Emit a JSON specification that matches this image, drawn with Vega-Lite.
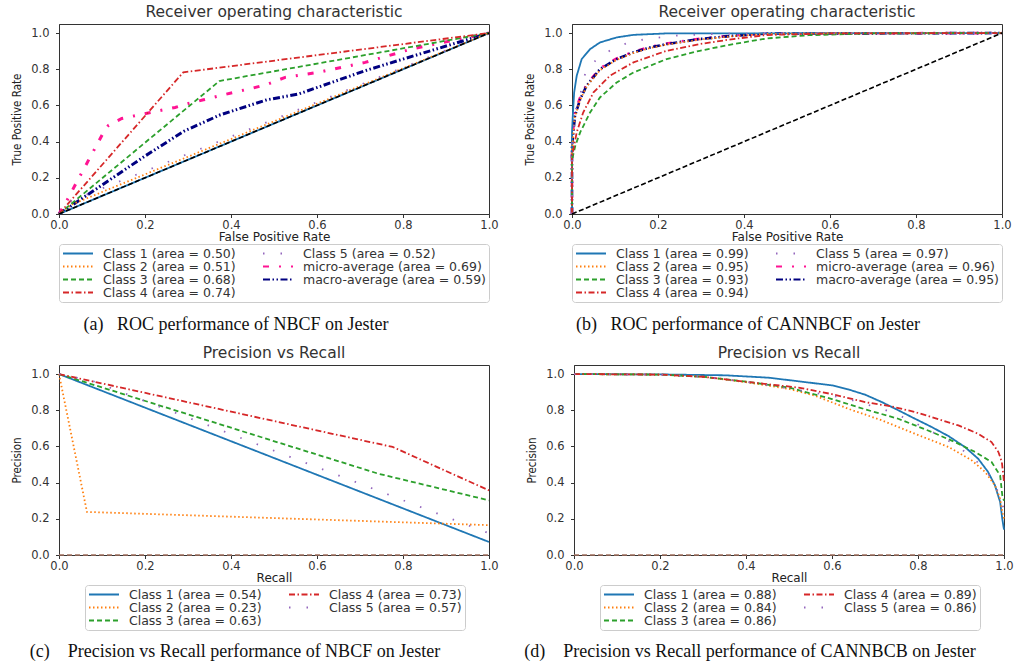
{
  "$schema": "https://vega.github.io/schema/vega-lite/v6.json",
  "padding": {"left": 11, "top": 4, "right": 0, "bottom": 0},
  "background": "white",
  "datasets": {
    "a": [
      {"s": "Class 1 (area = 0.50)", "x": 0, "y": 0}, {"s": "Class 1 (area = 0.50)", "x": 1, "y": 1},
      {"s": "Class 2 (area = 0.51)", "x": 0, "y": 0}, {"s": "Class 2 (area = 0.51)", "x": 0.03, "y": 0.053}, {"s": "Class 2 (area = 0.51)", "x": 1, "y": 1},
      {"s": "Class 3 (area = 0.68)", "x": 0, "y": 0}, {"s": "Class 3 (area = 0.68)", "x": 0.373, "y": 0.735}, {"s": "Class 3 (area = 0.68)", "x": 1, "y": 1},
      {"s": "Class 4 (area = 0.74)", "x": 0, "y": 0}, {"s": "Class 4 (area = 0.74)", "x": 0.289, "y": 0.783}, {"s": "Class 4 (area = 0.74)", "x": 1, "y": 1},
      {"s": "Class 5 (area = 0.52)", "x": 0, "y": 0}, {"s": "Class 5 (area = 0.52)", "x": 0.02, "y": 0.065}, {"s": "Class 5 (area = 0.52)", "x": 1, "y": 1}
    ],
    "a_avg": [
      {"s": "micro-average (area = 0.69)", "x": 0, "y": 0}, {"s": "micro-average (area = 0.69)", "x": 0.018, "y": 0.073},
      {"s": "micro-average (area = 0.69)", "x": 0.045, "y": 0.193}, {"s": "micro-average (area = 0.69)", "x": 0.06, "y": 0.258},
      {"s": "micro-average (area = 0.69)", "x": 0.072, "y": 0.313}, {"s": "micro-average (area = 0.69)", "x": 0.087, "y": 0.377},
      {"s": "micro-average (area = 0.69)", "x": 0.101, "y": 0.44}, {"s": "micro-average (area = 0.69)", "x": 0.115, "y": 0.49},
      {"s": "micro-average (area = 0.69)", "x": 0.146, "y": 0.528}, {"s": "micro-average (area = 0.69)", "x": 0.188, "y": 0.549},
      {"s": "micro-average (area = 0.69)", "x": 0.27, "y": 0.589}, {"s": "micro-average (area = 0.69)", "x": 0.301, "y": 0.611},
      {"s": "micro-average (area = 0.69)", "x": 0.336, "y": 0.631}, {"s": "micro-average (area = 0.69)", "x": 0.374, "y": 0.654},
      {"s": "micro-average (area = 0.69)", "x": 0.413, "y": 0.676}, {"s": "micro-average (area = 0.69)", "x": 0.448, "y": 0.694},
      {"s": "micro-average (area = 0.69)", "x": 0.483, "y": 0.716}, {"s": "micro-average (area = 0.69)", "x": 0.526, "y": 0.755},
      {"s": "micro-average (area = 0.69)", "x": 0.603, "y": 0.783}, {"s": "micro-average (area = 0.69)", "x": 0.712, "y": 0.838},
      {"s": "micro-average (area = 0.69)", "x": 0.82, "y": 0.912}, {"s": "micro-average (area = 0.69)", "x": 1, "y": 1},
      {"s": "macro-average (area = 0.59)", "x": 0, "y": 0}, {"s": "macro-average (area = 0.59)", "x": 0.1, "y": 0.16},
      {"s": "macro-average (area = 0.59)", "x": 0.2, "y": 0.32}, {"s": "macro-average (area = 0.59)", "x": 0.29, "y": 0.457},
      {"s": "macro-average (area = 0.59)", "x": 0.374, "y": 0.547}, {"s": "macro-average (area = 0.59)", "x": 0.483, "y": 0.631},
      {"s": "macro-average (area = 0.59)", "x": 0.557, "y": 0.663}, {"s": "macro-average (area = 0.59)", "x": 0.712, "y": 0.792},
      {"s": "macro-average (area = 0.59)", "x": 0.8, "y": 0.856}, {"s": "macro-average (area = 0.59)", "x": 1, "y": 1}
    ],
    "b": [
      {"s": "Class 1 (area = 0.99)", "x": 0, "y": 0}, {"s": "Class 1 (area = 0.99)", "x": 0, "y": 0.45},
      {"s": "Class 1 (area = 0.99)", "x": 0.002, "y": 0.55}, {"s": "Class 1 (area = 0.99)", "x": 0.005, "y": 0.672},
      {"s": "Class 1 (area = 0.99)", "x": 0.011, "y": 0.764}, {"s": "Class 1 (area = 0.99)", "x": 0.0225, "y": 0.856},
      {"s": "Class 1 (area = 0.99)", "x": 0.042, "y": 0.911}, {"s": "Class 1 (area = 0.99)", "x": 0.065, "y": 0.948},
      {"s": "Class 1 (area = 0.99)", "x": 0.104, "y": 0.976}, {"s": "Class 1 (area = 0.99)", "x": 0.143, "y": 0.99},
      {"s": "Class 1 (area = 0.99)", "x": 0.22, "y": 0.998}, {"s": "Class 1 (area = 0.99)", "x": 1, "y": 1},
      {"s": "Class 2 (area = 0.95)", "x": 0, "y": 0}, {"s": "Class 2 (area = 0.95)", "x": 0, "y": 0.35},
      {"s": "Class 2 (area = 0.95)", "x": 0.006, "y": 0.53}, {"s": "Class 2 (area = 0.95)", "x": 0.018, "y": 0.625},
      {"s": "Class 2 (area = 0.95)", "x": 0.034, "y": 0.705}, {"s": "Class 2 (area = 0.95)", "x": 0.065, "y": 0.795},
      {"s": "Class 2 (area = 0.95)", "x": 0.104, "y": 0.852}, {"s": "Class 2 (area = 0.95)", "x": 0.143, "y": 0.89},
      {"s": "Class 2 (area = 0.95)", "x": 0.181, "y": 0.917}, {"s": "Class 2 (area = 0.95)", "x": 0.22, "y": 0.936},
      {"s": "Class 2 (area = 0.95)", "x": 0.297, "y": 0.964}, {"s": "Class 2 (area = 0.95)", "x": 0.375, "y": 0.983},
      {"s": "Class 2 (area = 0.95)", "x": 0.452, "y": 0.995}, {"s": "Class 2 (area = 0.95)", "x": 0.6, "y": 0.999},
      {"s": "Class 2 (area = 0.95)", "x": 1, "y": 1},
      {"s": "Class 3 (area = 0.93)", "x": 0, "y": 0}, {"s": "Class 3 (area = 0.93)", "x": 0, "y": 0.3},
      {"s": "Class 3 (area = 0.93)", "x": 0.008, "y": 0.38}, {"s": "Class 3 (area = 0.93)", "x": 0.019, "y": 0.451},
      {"s": "Class 3 (area = 0.93)", "x": 0.042, "y": 0.561}, {"s": "Class 3 (area = 0.93)", "x": 0.065, "y": 0.644},
      {"s": "Class 3 (area = 0.93)", "x": 0.104, "y": 0.727}, {"s": "Class 3 (area = 0.93)", "x": 0.143, "y": 0.782},
      {"s": "Class 3 (area = 0.93)", "x": 0.22, "y": 0.856}, {"s": "Class 3 (area = 0.93)", "x": 0.297, "y": 0.902},
      {"s": "Class 3 (area = 0.93)", "x": 0.375, "y": 0.939}, {"s": "Class 3 (area = 0.93)", "x": 0.452, "y": 0.97},
      {"s": "Class 3 (area = 0.93)", "x": 0.55, "y": 0.988}, {"s": "Class 3 (area = 0.93)", "x": 0.7, "y": 0.998},
      {"s": "Class 3 (area = 0.93)", "x": 1, "y": 1},
      {"s": "Class 4 (area = 0.94)", "x": 0, "y": 0}, {"s": "Class 4 (area = 0.94)", "x": 0, "y": 0.32},
      {"s": "Class 4 (area = 0.94)", "x": 0.011, "y": 0.451}, {"s": "Class 4 (area = 0.94)", "x": 0.026, "y": 0.561},
      {"s": "Class 4 (area = 0.94)", "x": 0.05, "y": 0.672}, {"s": "Class 4 (area = 0.94)", "x": 0.088, "y": 0.764},
      {"s": "Class 4 (area = 0.94)", "x": 0.143, "y": 0.838}, {"s": "Class 4 (area = 0.94)", "x": 0.22, "y": 0.902},
      {"s": "Class 4 (area = 0.94)", "x": 0.297, "y": 0.939}, {"s": "Class 4 (area = 0.94)", "x": 0.375, "y": 0.967},
      {"s": "Class 4 (area = 0.94)", "x": 0.452, "y": 0.989}, {"s": "Class 4 (area = 0.94)", "x": 0.6, "y": 0.998},
      {"s": "Class 4 (area = 0.94)", "x": 1, "y": 1},
      {"s": "Class 5 (area = 0.97)", "x": 0, "y": 0}, {"s": "Class 5 (area = 0.97)", "x": 0, "y": 0.4},
      {"s": "Class 5 (area = 0.97)", "x": 0.01, "y": 0.59}, {"s": "Class 5 (area = 0.97)", "x": 0.019, "y": 0.653},
      {"s": "Class 5 (area = 0.97)", "x": 0.025, "y": 0.73}, {"s": "Class 5 (area = 0.97)", "x": 0.034, "y": 0.801},
      {"s": "Class 5 (area = 0.97)", "x": 0.061, "y": 0.862}, {"s": "Class 5 (area = 0.97)", "x": 0.096, "y": 0.915},
      {"s": "Class 5 (area = 0.97)", "x": 0.139, "y": 0.954}, {"s": "Class 5 (area = 0.97)", "x": 0.185, "y": 0.97},
      {"s": "Class 5 (area = 0.97)", "x": 0.232, "y": 0.985}, {"s": "Class 5 (area = 0.97)", "x": 0.35, "y": 0.997},
      {"s": "Class 5 (area = 0.97)", "x": 1, "y": 1}
    ],
    "b_avg": [
      {"s": "micro-average (area = 0.96)", "x": 0, "y": 0}, {"s": "micro-average (area = 0.96)", "x": 0, "y": 0.38},
      {"s": "micro-average (area = 0.96)", "x": 0.006, "y": 0.56}, {"s": "micro-average (area = 0.96)", "x": 0.019, "y": 0.645},
      {"s": "micro-average (area = 0.96)", "x": 0.034, "y": 0.715}, {"s": "micro-average (area = 0.96)", "x": 0.065, "y": 0.805},
      {"s": "micro-average (area = 0.96)", "x": 0.104, "y": 0.86}, {"s": "micro-average (area = 0.96)", "x": 0.143, "y": 0.897},
      {"s": "micro-average (area = 0.96)", "x": 0.181, "y": 0.923}, {"s": "micro-average (area = 0.96)", "x": 0.22, "y": 0.942},
      {"s": "micro-average (area = 0.96)", "x": 0.297, "y": 0.969}, {"s": "micro-average (area = 0.96)", "x": 0.375, "y": 0.987},
      {"s": "micro-average (area = 0.96)", "x": 0.452, "y": 0.998}, {"s": "micro-average (area = 0.96)", "x": 1, "y": 1},
      {"s": "macro-average (area = 0.95)", "x": 0, "y": 0}, {"s": "macro-average (area = 0.95)", "x": 0, "y": 0.38},
      {"s": "macro-average (area = 0.95)", "x": 0.007, "y": 0.543}, {"s": "macro-average (area = 0.95)", "x": 0.019, "y": 0.635},
      {"s": "macro-average (area = 0.95)", "x": 0.034, "y": 0.709}, {"s": "macro-average (area = 0.95)", "x": 0.065, "y": 0.801},
      {"s": "macro-average (area = 0.95)", "x": 0.104, "y": 0.856}, {"s": "macro-average (area = 0.95)", "x": 0.143, "y": 0.893},
      {"s": "macro-average (area = 0.95)", "x": 0.181, "y": 0.92}, {"s": "macro-average (area = 0.95)", "x": 0.22, "y": 0.939},
      {"s": "macro-average (area = 0.95)", "x": 0.297, "y": 0.967}, {"s": "macro-average (area = 0.95)", "x": 0.375, "y": 0.985},
      {"s": "macro-average (area = 0.95)", "x": 0.452, "y": 0.997}, {"s": "macro-average (area = 0.95)", "x": 1, "y": 1}
    ],
    "c": [
      {"s": "Class 1 (area = 0.54)", "x": 0, "y": 1}, {"s": "Class 1 (area = 0.54)", "x": 1, "y": 0.072},
      {"s": "Class 2 (area = 0.23)", "x": 0, "y": 1}, {"s": "Class 2 (area = 0.23)", "x": 0.065, "y": 0.238}, {"s": "Class 2 (area = 0.23)", "x": 1, "y": 0.165},
      {"s": "Class 3 (area = 0.63)", "x": 0, "y": 1}, {"s": "Class 3 (area = 0.63)", "x": 0.743, "y": 0.449}, {"s": "Class 3 (area = 0.63)", "x": 1, "y": 0.302},
      {"s": "Class 4 (area = 0.73)", "x": 0, "y": 1}, {"s": "Class 4 (area = 0.73)", "x": 0.776, "y": 0.597}, {"s": "Class 4 (area = 0.73)", "x": 1, "y": 0.357},
      {"s": "Class 5 (area = 0.57)", "x": 0, "y": 1}, {"s": "Class 5 (area = 0.57)", "x": 0.08, "y": 0.96}, {"s": "Class 5 (area = 0.57)", "x": 1, "y": 0.12}
    ],
    "d": [
      {"s": "Class 1 (area = 0.88)", "x": 0, "y": 1}, {"s": "Class 1 (area = 0.88)", "x": 0.2, "y": 0.998},
      {"s": "Class 1 (area = 0.88)", "x": 0.352, "y": 0.993}, {"s": "Class 1 (area = 0.88)", "x": 0.452, "y": 0.98},
      {"s": "Class 1 (area = 0.88)", "x": 0.522, "y": 0.96}, {"s": "Class 1 (area = 0.88)", "x": 0.6, "y": 0.9375},
      {"s": "Class 1 (area = 0.88)", "x": 0.638, "y": 0.915}, {"s": "Class 1 (area = 0.88)", "x": 0.677, "y": 0.886},
      {"s": "Class 1 (area = 0.88)", "x": 0.716, "y": 0.845}, {"s": "Class 1 (area = 0.88)", "x": 0.754, "y": 0.8},
      {"s": "Class 1 (area = 0.88)", "x": 0.793, "y": 0.753}, {"s": "Class 1 (area = 0.88)", "x": 0.832, "y": 0.707},
      {"s": "Class 1 (area = 0.88)", "x": 0.871, "y": 0.657}, {"s": "Class 1 (area = 0.88)", "x": 0.909, "y": 0.597},
      {"s": "Class 1 (area = 0.88)", "x": 0.94, "y": 0.532}, {"s": "Class 1 (area = 0.88)", "x": 0.963, "y": 0.459},
      {"s": "Class 1 (area = 0.88)", "x": 0.979, "y": 0.385}, {"s": "Class 1 (area = 0.88)", "x": 0.991, "y": 0.293},
      {"s": "Class 1 (area = 0.88)", "x": 0.996, "y": 0.2}, {"s": "Class 1 (area = 0.88)", "x": 1, "y": 0.14},
      {"s": "Class 2 (area = 0.84)", "x": 0, "y": 1}, {"s": "Class 2 (area = 0.84)", "x": 0.2, "y": 0.997},
      {"s": "Class 2 (area = 0.84)", "x": 0.3, "y": 0.985}, {"s": "Class 2 (area = 0.84)", "x": 0.4, "y": 0.955},
      {"s": "Class 2 (area = 0.84)", "x": 0.5, "y": 0.918}, {"s": "Class 2 (area = 0.84)", "x": 0.561, "y": 0.88},
      {"s": "Class 2 (area = 0.84)", "x": 0.638, "y": 0.808}, {"s": "Class 2 (area = 0.84)", "x": 0.716, "y": 0.744},
      {"s": "Class 2 (area = 0.84)", "x": 0.793, "y": 0.67}, {"s": "Class 2 (area = 0.84)", "x": 0.871, "y": 0.597},
      {"s": "Class 2 (area = 0.84)", "x": 0.925, "y": 0.523}, {"s": "Class 2 (area = 0.84)", "x": 0.956, "y": 0.459},
      {"s": "Class 2 (area = 0.84)", "x": 0.979, "y": 0.385}, {"s": "Class 2 (area = 0.84)", "x": 0.991, "y": 0.311},
      {"s": "Class 2 (area = 0.84)", "x": 0.996, "y": 0.238}, {"s": "Class 2 (area = 0.84)", "x": 1, "y": 0.2},
      {"s": "Class 3 (area = 0.86)", "x": 0, "y": 1}, {"s": "Class 3 (area = 0.86)", "x": 0.2, "y": 0.997},
      {"s": "Class 3 (area = 0.86)", "x": 0.3, "y": 0.985}, {"s": "Class 3 (area = 0.86)", "x": 0.4, "y": 0.958},
      {"s": "Class 3 (area = 0.86)", "x": 0.5, "y": 0.925}, {"s": "Class 3 (area = 0.86)", "x": 0.6, "y": 0.862},
      {"s": "Class 3 (area = 0.86)", "x": 0.677, "y": 0.805}, {"s": "Class 3 (area = 0.86)", "x": 0.754, "y": 0.753},
      {"s": "Class 3 (area = 0.86)", "x": 0.832, "y": 0.68}, {"s": "Class 3 (area = 0.86)", "x": 0.886, "y": 0.624},
      {"s": "Class 3 (area = 0.86)", "x": 0.933, "y": 0.569}, {"s": "Class 3 (area = 0.86)", "x": 0.971, "y": 0.514},
      {"s": "Class 3 (area = 0.86)", "x": 0.991, "y": 0.44}, {"s": "Class 3 (area = 0.86)", "x": 0.996, "y": 0.33},
      {"s": "Class 3 (area = 0.86)", "x": 1, "y": 0.3},
      {"s": "Class 4 (area = 0.89)", "x": 0, "y": 1}, {"s": "Class 4 (area = 0.89)", "x": 0.2, "y": 0.997},
      {"s": "Class 4 (area = 0.89)", "x": 0.3, "y": 0.985}, {"s": "Class 4 (area = 0.89)", "x": 0.39, "y": 0.96},
      {"s": "Class 4 (area = 0.89)", "x": 0.522, "y": 0.925}, {"s": "Class 4 (area = 0.89)", "x": 0.6, "y": 0.889},
      {"s": "Class 4 (area = 0.89)", "x": 0.677, "y": 0.845}, {"s": "Class 4 (area = 0.89)", "x": 0.739, "y": 0.821},
      {"s": "Class 4 (area = 0.89)", "x": 0.793, "y": 0.79}, {"s": "Class 4 (area = 0.89)", "x": 0.832, "y": 0.762},
      {"s": "Class 4 (area = 0.89)", "x": 0.894, "y": 0.716}, {"s": "Class 4 (area = 0.89)", "x": 0.94, "y": 0.67},
      {"s": "Class 4 (area = 0.89)", "x": 0.971, "y": 0.624}, {"s": "Class 4 (area = 0.89)", "x": 0.987, "y": 0.569},
      {"s": "Class 4 (area = 0.89)", "x": 0.995, "y": 0.514}, {"s": "Class 4 (area = 0.89)", "x": 0.998, "y": 0.45},
      {"s": "Class 4 (area = 0.89)", "x": 1, "y": 0.403},
      {"s": "Class 5 (area = 0.86)", "x": 0, "y": 1}, {"s": "Class 5 (area = 0.86)", "x": 0.2, "y": 0.997},
      {"s": "Class 5 (area = 0.86)", "x": 0.3, "y": 0.985}, {"s": "Class 5 (area = 0.86)", "x": 0.4, "y": 0.957},
      {"s": "Class 5 (area = 0.86)", "x": 0.5, "y": 0.92}, {"s": "Class 5 (area = 0.86)", "x": 0.631, "y": 0.867},
      {"s": "Class 5 (area = 0.86)", "x": 0.673, "y": 0.836}, {"s": "Class 5 (area = 0.86)", "x": 0.712, "y": 0.812},
      {"s": "Class 5 (area = 0.86)", "x": 0.753, "y": 0.775}, {"s": "Class 5 (area = 0.86)", "x": 0.789, "y": 0.735},
      {"s": "Class 5 (area = 0.86)", "x": 0.863, "y": 0.643}, {"s": "Class 5 (area = 0.86)", "x": 0.898, "y": 0.591},
      {"s": "Class 5 (area = 0.86)", "x": 0.94, "y": 0.51}, {"s": "Class 5 (area = 0.86)", "x": 0.97, "y": 0.43},
      {"s": "Class 5 (area = 0.86)", "x": 0.99, "y": 0.33}, {"s": "Class 5 (area = 0.86)", "x": 1, "y": 0.25}
    ],
    "diag": [{"x": 0, "y": 0}, {"x": 1, "y": 1}],
    "base": [{"x": 0, "y": 0}, {"x": 1, "y": 0}]
  },
  "config": {
    "font": "DejaVu Sans",
    "view": {"stroke": "#333", "strokeWidth": 1},
    "axis": {"grid": false, "labelFont": "DejaVu Sans", "labelFontSize": 11.5, "labelColor": "#333", "tickColor": "#333", "domainColor": "#333", "tickSize": 3.5, "titleFont": "DejaVu Sans", "titleFontSize": 12, "titleFontWeight": "normal", "titleColor": "#222", "labelFlush": false, "labelOverlap": false, "labelSeparation": 0},
    "axisX": {"labelPadding": 1.5, "titlePadding": 0.5},
    "axisY": {"labelPadding": 6.5, "titlePadding": 8, "titleFont": "DejaVu Sans Condensed", "titleFontSize": 11.5, "labelOverlap": false, "labelBound": false},
    "title": {"font": "DejaVu Sans", "fontSize": 15.5, "fontWeight": "normal", "color": "#333", "offset": 4},
    "legend": {"labelFont": "DejaVu Sans", "labelFontSize": 12.5, "labelColor": "#333", "symbolType": "stroke", "symbolSize": 900, "symbolStrokeWidth": 1.8, "strokeColor": "#ccc", "fillColor": "white", "padding": 3, "cornerRadius": 3, "rowPadding": 0, "columnPadding": 26, "labelOffset": 9, "clipHeight": 13, "labelLimit": 0},
    "line": {"strokeCap": "butt"}
  },
  "resolve": {"scale": {"color": "independent", "strokeDash": "independent"}, "legend": {"color": "independent", "strokeDash": "independent"}},
  "spacing": 11,
  "vconcat": [
    {
      "hconcat": [
        {
          "vconcat": [
            {
              "title": {"text": "Receiver operating characteristic", "frame": "group"},
              "width": 430, "height": 190,
              "layer": [
                {
                  "data": {"name": "a_avg"},
                  "mark": {"type": "line", "strokeWidth": 3},
                  "encoding": {
                    "x": {"field": "x", "type": "quantitative", "scale": {"domain": [0, 1], "nice": false, "zero": false}, "axis": {"title": "False Positive Rate", "values": [0, 0.2, 0.4, 0.6, 0.8, 1], "format": ".1f", "labelOverlap": false}},
                    "y": {"field": "y", "type": "quantitative", "scale": {"domain": [0, 1.05], "nice": false}, "axis": {"title": "True Positive Rate", "values": [0, 0.2, 0.4, 0.6, 0.8, 1], "tickCount": 6, "format": ".1f", "labelOverlap": false, "labelSeparation": 0}},
                    "order": {"field": "y", "type": "quantitative"},
                    "color": {"field": "s", "type": "nominal", "scale": {"domain": ["Class 1 (area = 0.50)", "Class 2 (area = 0.51)", "Class 3 (area = 0.68)", "Class 4 (area = 0.74)", "Class 5 (area = 0.52)", "micro-average (area = 0.69)", "macro-average (area = 0.59)"], "range": ["#1f77b4", "#ff7f0e", "#2ca02c", "#d62728", "#9467bd", "#ff1493", "#000080"]}, "legend": {"title": null, "orient": "none", "legendX": 0, "legendY": 220, "columns": 2}},
                    "strokeDash": {"field": "s", "type": "nominal", "scale": {"domain": ["Class 1 (area = 0.50)", "Class 2 (area = 0.51)", "Class 3 (area = 0.68)", "Class 4 (area = 0.74)", "Class 5 (area = 0.52)", "micro-average (area = 0.69)", "macro-average (area = 0.59)"], "range": [[1, 0], [1.5, 2.5], [5, 3], [6, 2.5, 1.5, 2.5], [1.5, 16], [6, 10, 2, 10], [7, 2.5, 1.5, 2.5, 1.5, 2.5]]}, "legend": {"title": null, "orient": "none", "legendX": 0, "legendY": 220, "columns": 2}}
                  }
                },
                {
                  "data": {"name": "a"},
                  "mark": {"type": "line", "strokeWidth": 1.8},
                  "encoding": {
                    "x": {"field": "x", "type": "quantitative"},
                    "y": {"field": "y", "type": "quantitative"},
                    "order": {"field": "y", "type": "quantitative"},
                    "color": {"field": "s", "type": "nominal"},
                    "strokeDash": {"field": "s", "type": "nominal"}
                  }
                },
                {
                  "data": {"name": "diag"},
                  "mark": {"type": "line", "color": "black", "strokeDash": [5, 2.5], "strokeWidth": 1.6},
                  "encoding": {"x": {"field": "x", "type": "quantitative"}, "y": {"field": "y", "type": "quantitative"}}
                }
              ]
            }
          ],
          "title": {"text": "(a)\u00a0\u00a0\u00a0ROC performance of NBCF on Jester", "orient": "bottom", "anchor": "middle", "frame": "bounds", "font": "Liberation Serif", "fontSize": 18, "color": "#111", "offset": 13, "dx": -19}
        },
        {
          "vconcat": [
            {
              "title": {"text": "Receiver operating characteristic", "frame": "group"},
              "width": 430, "height": 190,
              "layer": [
                {
                  "data": {"name": "b_avg"},
                  "mark": {"type": "line", "strokeWidth": 2.6},
                  "encoding": {
                    "x": {"field": "x", "type": "quantitative", "scale": {"domain": [0, 1], "nice": false, "zero": false}, "axis": {"title": "False Positive Rate", "values": [0, 0.2, 0.4, 0.6, 0.8, 1], "format": ".1f", "labelOverlap": false}},
                    "y": {"field": "y", "type": "quantitative", "scale": {"domain": [0, 1.05], "nice": false}, "axis": {"title": "True Positive Rate", "values": [0, 0.2, 0.4, 0.6, 0.8, 1], "tickCount": 6, "format": ".1f", "labelOverlap": false, "labelSeparation": 0}},
                    "order": {"field": "y", "type": "quantitative"},
                    "color": {"field": "s", "type": "nominal", "scale": {"domain": ["Class 1 (area = 0.99)", "Class 2 (area = 0.95)", "Class 3 (area = 0.93)", "Class 4 (area = 0.94)", "Class 5 (area = 0.97)", "micro-average (area = 0.96)", "macro-average (area = 0.95)"], "range": ["#1f77b4", "#ff7f0e", "#2ca02c", "#d62728", "#9467bd", "#ff1493", "#000080"]}, "legend": {"title": null, "orient": "none", "legendX": 0, "legendY": 220, "columns": 2}},
                    "strokeDash": {"field": "s", "type": "nominal", "scale": {"domain": ["Class 1 (area = 0.99)", "Class 2 (area = 0.95)", "Class 3 (area = 0.93)", "Class 4 (area = 0.94)", "Class 5 (area = 0.97)", "micro-average (area = 0.96)", "macro-average (area = 0.95)"], "range": [[1, 0], [1.5, 2.5], [5, 3], [6, 2.5, 1.5, 2.5], [1.5, 16], [6, 10, 2, 10], [7, 2.5, 1.5, 2.5, 1.5, 2.5]]}, "legend": {"title": null, "orient": "none", "legendX": 0, "legendY": 220, "columns": 2}}
                  }
                },
                {
                  "data": {"name": "b"},
                  "mark": {"type": "line", "strokeWidth": 1.8},
                  "encoding": {
                    "x": {"field": "x", "type": "quantitative"},
                    "y": {"field": "y", "type": "quantitative"},
                    "order": {"field": "y", "type": "quantitative"},
                    "color": {"field": "s", "type": "nominal"},
                    "strokeDash": {"field": "s", "type": "nominal"}
                  }
                },
                {
                  "data": {"name": "diag"},
                  "mark": {"type": "line", "color": "black", "strokeDash": [5, 2.5], "strokeWidth": 1.6},
                  "encoding": {"x": {"field": "x", "type": "quantitative"}, "y": {"field": "y", "type": "quantitative"}}
                }
              ]
            }
          ],
          "title": {"text": "(b)\u00a0\u00a0\u00a0ROC performance of CANNBCF on Jester", "orient": "bottom", "anchor": "middle", "frame": "bounds", "font": "Liberation Serif", "fontSize": 18, "color": "#111", "offset": 13, "dx": -20}
        }
      ],
      "spacing": 25,
      "resolve": {"scale": {"color": "independent", "strokeDash": "independent"}, "legend": {"color": "independent", "strokeDash": "independent"}}
    },
    {
      "hconcat": [
        {
          "vconcat": [
            {
              "title": {"text": "Precision vs Recall", "frame": "group"},
              "width": 430, "height": 190,
              "layer": [
                {
                  "data": {"name": "base"},
                  "mark": {"type": "line", "color": "#a0705f", "strokeDash": [5, 3], "strokeWidth": 1.5},
                  "encoding": {
                    "x": {"field": "x", "type": "quantitative", "scale": {"domain": [0, 1], "nice": false, "zero": false}, "axis": {"title": "Recall", "values": [0, 0.2, 0.4, 0.6, 0.8, 1], "format": ".1f", "labelOverlap": false}},
                    "y": {"field": "y", "type": "quantitative", "scale": {"domain": [0, 1.05], "nice": false}, "axis": {"title": "Precision", "values": [0, 0.2, 0.4, 0.6, 0.8, 1], "tickCount": 6, "format": ".1f", "labelOverlap": false, "labelSeparation": 0}}
                  }
                },
                {
                  "data": {"name": "c"},
                  "mark": {"type": "line", "strokeWidth": 1.8},
                  "encoding": {
                    "x": {"field": "x", "type": "quantitative"},
                    "y": {"field": "y", "type": "quantitative"},
                    "color": {"field": "s", "type": "nominal", "scale": {"domain": ["Class 1 (area = 0.54)", "Class 2 (area = 0.23)", "Class 3 (area = 0.63)", "Class 4 (area = 0.73)", "Class 5 (area = 0.57)"], "range": ["#1f77b4", "#ff7f0e", "#2ca02c", "#d62728", "#9467bd"]}, "legend": {"title": null, "orient": "none", "legendX": 26, "legendY": 220, "columns": 2}},
                    "strokeDash": {"field": "s", "type": "nominal", "scale": {"domain": ["Class 1 (area = 0.54)", "Class 2 (area = 0.23)", "Class 3 (area = 0.63)", "Class 4 (area = 0.73)", "Class 5 (area = 0.57)"], "range": [[1, 0], [1.5, 2.5], [5, 3], [6, 2.5, 1.5, 2.5], [1.5, 16]]}, "legend": {"title": null, "orient": "none", "legendX": 26, "legendY": 220, "columns": 2}}
                  }
                }
              ]
            }
          ],
          "title": {"text": "(c)\u00a0\u00a0\u00a0\u00a0Precision vs Recall performance of NBCF on Jester", "orient": "bottom", "anchor": "middle", "frame": "bounds", "font": "Liberation Serif", "fontSize": 18, "color": "#111", "offset": 12, "dx": -20}
        },
        {
          "vconcat": [
            {
              "title": {"text": "Precision vs Recall", "frame": "group"},
              "width": 430, "height": 190,
              "layer": [
                {
                  "data": {"name": "base"},
                  "mark": {"type": "line", "color": "#a0705f", "strokeDash": [5, 3], "strokeWidth": 1.5},
                  "encoding": {
                    "x": {"field": "x", "type": "quantitative", "scale": {"domain": [0, 1], "nice": false, "zero": false}, "axis": {"title": "Recall", "values": [0, 0.2, 0.4, 0.6, 0.8, 1], "format": ".1f", "labelOverlap": false}},
                    "y": {"field": "y", "type": "quantitative", "scale": {"domain": [0, 1.05], "nice": false}, "axis": {"title": "Precision", "values": [0, 0.2, 0.4, 0.6, 0.8, 1], "tickCount": 6, "format": ".1f", "labelOverlap": false, "labelSeparation": 0}}
                  }
                },
                {
                  "data": {"name": "d"},
                  "mark": {"type": "line", "strokeWidth": 1.8},
                  "encoding": {
                    "x": {"field": "x", "type": "quantitative"},
                    "y": {"field": "y", "type": "quantitative"},
                    "color": {"field": "s", "type": "nominal", "scale": {"domain": ["Class 1 (area = 0.88)", "Class 2 (area = 0.84)", "Class 3 (area = 0.86)", "Class 4 (area = 0.89)", "Class 5 (area = 0.86)"], "range": ["#1f77b4", "#ff7f0e", "#2ca02c", "#d62728", "#9467bd"]}, "legend": {"title": null, "orient": "none", "legendX": 26, "legendY": 220, "columns": 2}},
                    "strokeDash": {"field": "s", "type": "nominal", "scale": {"domain": ["Class 1 (area = 0.88)", "Class 2 (area = 0.84)", "Class 3 (area = 0.86)", "Class 4 (area = 0.89)", "Class 5 (area = 0.86)"], "range": [[1, 0], [1.5, 2.5], [5, 3], [6, 2.5, 1.5, 2.5], [1.5, 16]]}, "legend": {"title": null, "orient": "none", "legendX": 26, "legendY": 220, "columns": 2}}
                  }
                }
              ]
            }
          ],
          "title": {"text": "(d)\u00a0\u00a0\u00a0\u00a0Precision vs Recall performance of CANNBCB on Jester", "orient": "bottom", "anchor": "middle", "frame": "bounds", "font": "Liberation Serif", "fontSize": 18, "color": "#111", "offset": 12, "dx": -20}
        }
      ],
      "spacing": 25,
      "resolve": {"scale": {"color": "independent", "strokeDash": "independent"}, "legend": {"color": "independent", "strokeDash": "independent"}}
    }
  ]
}
